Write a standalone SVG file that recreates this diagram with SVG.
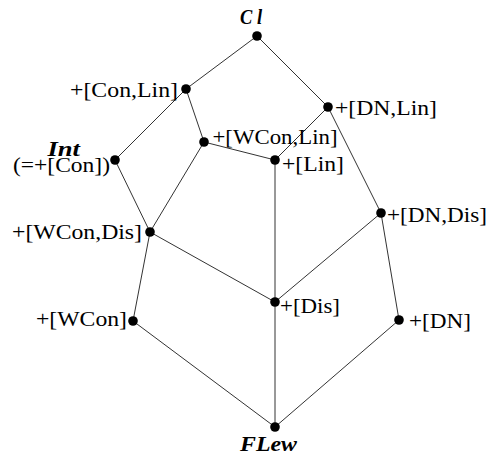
<svg xmlns="http://www.w3.org/2000/svg" width="489" height="457" viewBox="0 0 489 457">
<style>
.e{stroke:#333;stroke-width:1;fill:none}
.d{fill:#000}
.t{font-family:"Liberation Serif","Times New Roman",serif;font-size:21px;fill:#000}
.b{font-family:"Liberation Serif","Times New Roman",serif;font-size:21px;font-weight:bold;font-style:italic;fill:#000}
</style>
<rect width="489" height="457" fill="#fff"/>
<g id="connectors">
<line class="e" x1="257" y1="36" x2="186" y2="89"/>
<line class="e" x1="257" y1="36" x2="328" y2="107"/>
<line class="e" x1="186" y1="89" x2="115" y2="160"/>
<line class="e" x1="186" y1="89" x2="204" y2="142"/>
<line class="e" x1="328" y1="107" x2="275" y2="160"/>
<line class="e" x1="328" y1="107" x2="381" y2="213"/>
<line class="e" x1="204" y1="142" x2="275" y2="160"/>
<line class="e" x1="204" y1="142" x2="150" y2="232"/>
<line class="e" x1="115" y1="160" x2="150" y2="232"/>
<line class="e" x1="275" y1="160" x2="275" y2="302"/>
<line class="e" x1="150" y1="232" x2="275" y2="302"/>
<line class="e" x1="150" y1="232" x2="133" y2="321"/>
<line class="e" x1="381" y1="213" x2="275" y2="302"/>
<line class="e" x1="381" y1="213" x2="399" y2="320"/>
<line class="e" x1="275" y1="302" x2="275" y2="427"/>
<line class="e" x1="133" y1="321" x2="275" y2="427"/>
<line class="e" x1="399" y1="320" x2="275" y2="427"/>
</g>
<g id="Cl"><circle class="d" cx="257" cy="36" r="4.8"/><text class="b" x="240" y="23.5" textLength="22" lengthAdjust="spacingAndGlyphs">C l</text></g>
<g id="ConLin"><circle class="d" cx="186" cy="89" r="4.8"/><text class="t" x="70" y="97" textLength="108" lengthAdjust="spacingAndGlyphs">+[Con,Lin]</text></g>
<g id="DNLin"><circle class="d" cx="328" cy="107" r="4.8"/><text class="t" x="335" y="115" textLength="102" lengthAdjust="spacingAndGlyphs">+[DN,Lin]</text></g>
<g id="WConLin"><circle class="d" cx="204" cy="142" r="4.8"/><text class="t" x="212.5" y="143.5" textLength="125" lengthAdjust="spacingAndGlyphs">+[WCon,Lin]</text></g>
<g id="Lin"><circle class="d" cx="275" cy="160" r="4.8"/><text class="t" x="282" y="170.5" textLength="62" lengthAdjust="spacingAndGlyphs">+[Lin]</text></g>
<g id="Int"><circle class="d" cx="115" cy="160" r="4.8"/><text class="b" x="47.5" y="155.5" textLength="32.5" lengthAdjust="spacingAndGlyphs">Int</text><text class="t" x="13" y="172" textLength="97" lengthAdjust="spacingAndGlyphs">(=+[Con])</text></g>
<g id="DNDis"><circle class="d" cx="381" cy="213" r="4.8"/><text class="t" x="387" y="222" textLength="100" lengthAdjust="spacingAndGlyphs">+[DN,Dis]</text></g>
<g id="WConDis"><circle class="d" cx="150" cy="232" r="4.8"/><text class="t" x="12" y="238.5" textLength="130" lengthAdjust="spacingAndGlyphs">+[WCon,Dis]</text></g>
<g id="Dis"><circle class="d" cx="275" cy="302" r="4.8"/><text class="t" x="280" y="312.5" textLength="60" lengthAdjust="spacingAndGlyphs">+[Dis]</text></g>
<g id="WCon"><circle class="d" cx="133" cy="321" r="4.8"/><text class="t" x="36" y="326" textLength="91" lengthAdjust="spacingAndGlyphs">+[WCon]</text></g>
<g id="DN"><circle class="d" cx="399" cy="320" r="4.8"/><text class="t" x="409" y="327.5" textLength="62" lengthAdjust="spacingAndGlyphs">+[DN]</text></g>
<g id="FLew"><circle class="d" cx="275" cy="427" r="4.8"/><text class="b" x="240" y="451" textLength="57" lengthAdjust="spacingAndGlyphs">FLew</text></g>
</svg>
